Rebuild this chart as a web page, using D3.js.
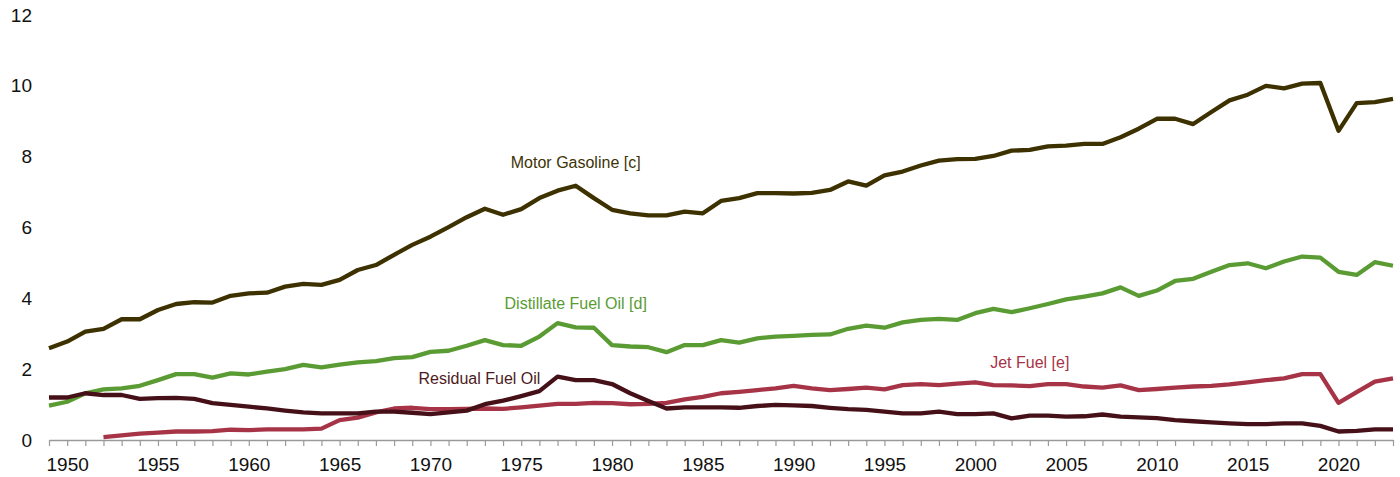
<!DOCTYPE html>
<html>
<head>
<meta charset="utf-8">
<script src="https://cdn.jsdelivr.net/npm/d3@7"></script>
<style>
  body { margin: 0; background: #fff; }
  svg { display: block; font-family: "Liberation Sans", Arial, sans-serif; }
</style>
</head>
<body>
<div id="vis"><svg></svg></div>
<script>
// years on the x axis
var years = d3.range(1949, 2024);

var motorGasoline = [2.59, 2.78, 3.06, 3.14, 3.41, 3.41, 3.67, 3.84, 3.89, 3.88,
  4.07, 4.14, 4.16, 4.33, 4.41, 4.38, 4.52, 4.80, 4.94, 5.23,
  5.51, 5.74, 6.01, 6.29, 6.53, 6.36, 6.52, 6.83, 7.04, 7.18,
  6.83, 6.50, 6.40, 6.34, 6.34, 6.45, 6.40, 6.75, 6.83, 6.97,
  6.97, 6.96, 6.98, 7.06, 7.30, 7.18, 7.47, 7.58, 7.75, 7.89,
  7.93, 7.94, 8.02, 8.17, 8.19, 8.29, 8.31, 8.36, 8.36, 8.55,
  8.79, 9.07, 9.07, 8.92, 9.26, 9.59, 9.75, 10.00, 9.93, 10.06,
  10.08, 8.73, 9.51, 9.54, 9.63];

var distillateFuelOil = [0.97, 1.08, 1.32, 1.43, 1.46, 1.53, 1.69, 1.86, 1.86, 1.76,
  1.88, 1.85, 1.93, 2.00, 2.12, 2.05, 2.13, 2.19, 2.23, 2.31,
  2.34, 2.49, 2.52, 2.66, 2.82, 2.68, 2.66, 2.92, 3.30, 3.18,
  3.17, 2.68, 2.64, 2.62, 2.48, 2.68, 2.68, 2.82, 2.75, 2.87,
  2.92, 2.94, 2.97, 2.98, 3.14, 3.23, 3.17, 3.32, 3.39, 3.42,
  3.39, 3.58, 3.70, 3.61, 3.72, 3.84, 3.97, 4.05, 4.14, 4.31,
  4.07, 4.22, 4.49, 4.55, 4.75, 4.94, 4.99, 4.85, 5.04, 5.18,
  5.15, 4.75, 4.66, 5.02, 4.92];

// no jet fuel values before 1952
var jetFuel = [null, null, null, 0.08, 0.13, 0.18, 0.21, 0.24, 0.24, 0.25,
  0.29, 0.28, 0.30, 0.30, 0.30, 0.32, 0.56, 0.63, 0.78, 0.89,
  0.91, 0.87, 0.87, 0.88, 0.89, 0.88, 0.92, 0.97, 1.02, 1.02,
  1.05, 1.04, 1.01, 1.02, 1.05, 1.15, 1.22, 1.32, 1.36, 1.41,
  1.46, 1.53, 1.46, 1.41, 1.44, 1.48, 1.43, 1.55, 1.58, 1.55,
  1.59, 1.63, 1.55, 1.54, 1.52, 1.58, 1.58, 1.51, 1.48, 1.54,
  1.41, 1.44, 1.48, 1.51, 1.53, 1.57, 1.63, 1.69, 1.74, 1.86,
  1.86, 1.05, 1.35, 1.65, 1.74];

var residualFuelOil = [1.20, 1.20, 1.32, 1.27, 1.27, 1.16, 1.18, 1.19, 1.16, 1.04,
  0.99, 0.94, 0.89, 0.83, 0.78, 0.75, 0.75, 0.75, 0.80, 0.80,
  0.77, 0.73, 0.78, 0.83, 1.01, 1.11, 1.24, 1.38, 1.79, 1.69,
  1.69, 1.58, 1.32, 1.10, 0.89, 0.92, 0.92, 0.92, 0.91, 0.96,
  0.99, 0.98, 0.96, 0.91, 0.87, 0.85, 0.80, 0.75, 0.75, 0.80,
  0.73, 0.73, 0.75, 0.61, 0.69, 0.69, 0.66, 0.67, 0.72, 0.66,
  0.64, 0.62, 0.56, 0.53, 0.50, 0.47, 0.45, 0.45, 0.47, 0.47,
  0.40, 0.24, 0.26, 0.30, 0.30];

var yTicks = [0, 2, 4, 6, 8, 10, 12];
var xLabelYears = d3.range(1950, 2021, 5);

// series: name, values, colour, label anchor (year, value)
var series = [
  {name: "Distillate Fuel Oil [d]", values: distillateFuelOil, color: "#5a9c33", labelColor: "#5a9c33", ly: 1978, lv: 3.87},
  {name: "Jet Fuel [e]", values: jetFuel, color: "#a63446", labelColor: "#a63446", ly: 2003, lv: 2.18},
  {name: "Residual Fuel Oil", values: residualFuelOil, color: "#461018", labelColor: "#4e1a22", ly: 1972.7, lv: 1.75},
  {name: "Motor Gasoline [c]", values: motorGasoline, color: "#3d3100", labelColor: "#3d3306", ly: 1978, lv: 7.85}
];

var margin = {top: 15, right: 7, bottom: 37, left: 49},
    width = 1400 - margin.left - margin.right,
    height = 477 - margin.top - margin.bottom;

var svg = d3.select("#vis").select("svg")
    .attr("width", 1400)
    .attr("height", 477)
  .append("g")
    .attr("transform", "translate(" + margin.left + "," + margin.top + ")");

var x = d3.scaleLinear().domain([1949, 2023]).range([0, 1344]);
var y = d3.scaleLinear().domain([0, 12]).range([425, 0]);

// x axis: a tick every year, labels every 5
var xAxis = svg.append("g")
    .attr("transform", "translate(0," + y(0) + ")")
    .call(d3.axisBottom(x)
      .tickValues(years)
      .tickSize(6)
      .tickSizeOuter(0)
      .tickFormat(function(d) { return xLabelYears.indexOf(d) >= 0 ? d : ""; }));
xAxis.select(".domain").attr("stroke", "#9a9a9a").attr("stroke-width", 1.5);
xAxis.selectAll(".tick line").attr("stroke", "#9a9a9a").attr("stroke-width", 1.2);
xAxis.selectAll(".tick text")
    .attr("y", 18)
    .style("font-size", "19px")
    .style("fill", "#111");

// y axis: labels only
var yAxis = svg.append("g")
    .call(d3.axisLeft(y).tickValues(yTicks).tickSize(0).tickPadding(17));
yAxis.select(".domain").remove();
yAxis.selectAll(".tick text")
    .style("font-size", "19px")
    .style("fill", "#111");

var line = d3.line()
  .defined(function(d) { return d.value != null; })
  .x(function(d) { return x(d.year); })
  .y(function(d) { return y(d.value); });

svg.selectAll("myLines")
  .data(series)
  .enter()
  .append("path")
    .attr("d", function(s) {
      return line(years.map(function(yr, i) { return {year: yr, value: s.values[i]}; }));
    })
    .attr("stroke", function(s) { return s.color; })
    .style("stroke-width", 4.3)
    .style("stroke-linejoin", "round")
    .style("fill", "none");

// series labels
svg.selectAll("myLabels")
  .data(series)
  .enter()
  .append("text")
    .attr("x", function(s) { return x(s.ly); })
    .attr("y", function(s) { return y(s.lv); })
    .attr("dy", "0.35em")
    .attr("text-anchor", "middle")
    .text(function(s) { return s.name; })
    .style("fill", function(s) { return s.labelColor; })
    .style("font-size", "16px");
</script>
</body>
</html>
